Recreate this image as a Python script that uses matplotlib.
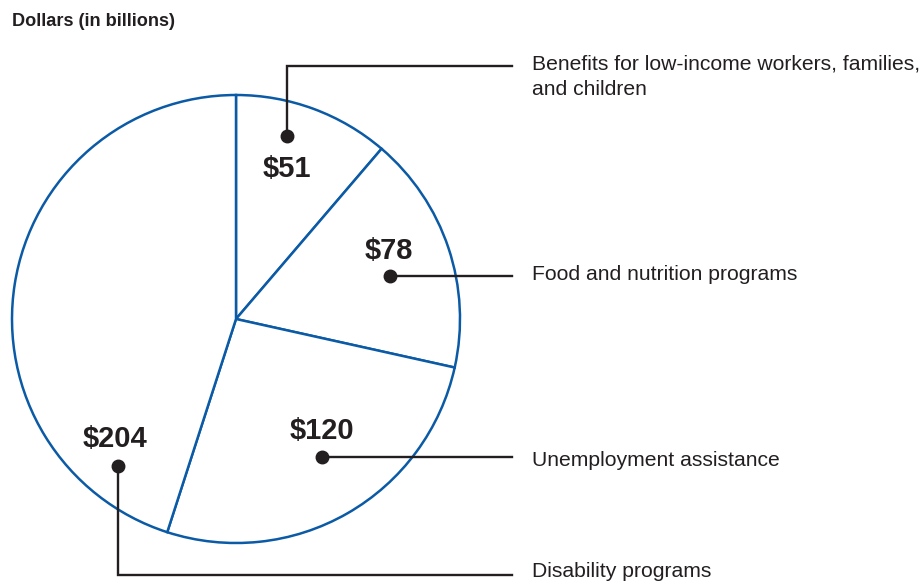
import matplotlib.pyplot as plt
import matplotlib as mpl

mpl.rcParams.update({'font.family': 'sans-serif',
                     'font.sans-serif': ['Liberation Sans', 'DejaVu Sans']})

# data
categories = ['Benefits for low-income workers, families,\nand children',
              'Food and nutrition programs',
              'Unemployment assistance',
              'Disability programs']
values = [51, 78, 120, 204]
value_labels = ['$51', '$78', '$120', '$204']

C_BLUE = '#0b5aa6'
C_TEXT = '#231f20'

W, H = 920, 582


def fy(y):
    """pixel row (top-down) -> axes y"""
    return H - y


fig = plt.figure(figsize=(W / 100, H / 100), dpi=100)
ax = fig.add_axes([0, 0, 1, 1])

ax.pie(values, center=(236, fy(319)), radius=224, startangle=90,
       counterclock=False, frame=True,
       wedgeprops=dict(facecolor='white', edgecolor=C_BLUE, linewidth=1.8))
ax.set_xlim(0, W)
ax.set_ylim(0, H)
ax.set_aspect('equal')
ax.axis('off')

# value text positions, dot and leader paths (pixels)
val_pos = [(287, 169), (389, 251), (322, 431), (115, 439)]
leaders = [
    [(287, 136), (287, 66), (512, 66)],
    [(390, 276), (512, 276)],
    [(322, 457), (512, 457)],
    [(118, 466), (118, 575), (512, 575)],
]
cat_pos = [(532, 77), (532, 274), (532, 460), (532, 572)]

for i in range(len(values)):
    vx, vy = val_pos[i]
    ax.text(vx, fy(vy), value_labels[i], ha='center', va='center',
            fontsize=21, fontweight='bold', color=C_TEXT)
    pts = leaders[i]
    ax.plot([p[0] for p in pts], [fy(p[1]) for p in pts], color=C_TEXT,
            linewidth=1.7, solid_joinstyle='miter', zorder=4)
    ax.plot(pts[0][0], fy(pts[0][1]), 'o', color=C_TEXT, markersize=9, zorder=5)
    cx, cy = cat_pos[i]
    ax.text(cx, fy(cy), categories[i], ha='left', va='center', fontsize=15.2,
            color=C_TEXT, linespacing=1.45)

fig.text(12 / W, 1 - 22 / H, 'Dollars (in billions)', ha='left', va='center',
         fontsize=13.1, fontweight='bold', color=C_TEXT)

fig.savefig('out.png', dpi=100)
plt.close(fig)
